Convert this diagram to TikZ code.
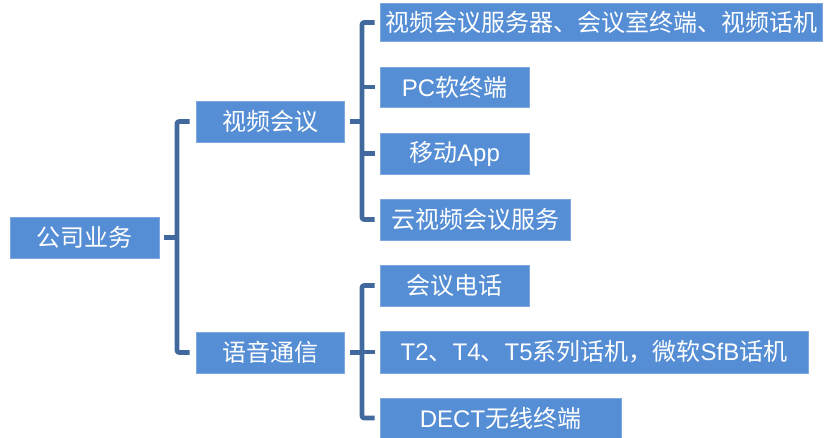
\documentclass[tikz,border=0pt]{standalone}
\usepackage{fontspec}
\setmainfont{Liberation Sans}
\newfontfamily\cjk{Noto Sans CJK SC}
\definecolor{boxblue}{HTML}{558ED5}
\definecolor{boxedge}{HTML}{7FA8DE}
\definecolor{linkblue}{HTML}{41699E}
\tikzset{
  box/.style={rectangle, fill=boxblue, draw=boxedge, line width=0.6pt, text=white,
    inner sep=0pt, font=\fontsize{18}{20}\selectfont},
  link/.style={draw=linkblue, line width=3.5pt, line join=round, rounded corners=1.5pt}
}
\begin{document}
\begin{tikzpicture}[x=0.75pt,y=-0.75pt]
\useasboundingbox[fill=white] (0,0) rectangle (828,437);
% level 0
\node[box, minimum width=149*0.75pt, minimum height=41*0.75pt] (root) at (84.5,237.5) {\cjk 公司业务};
% level 1
\node[box, minimum width=148*0.75pt, minimum height=41*0.75pt] (video) at (270,121.5) {\cjk 视频会议};
\node[box, minimum width=148*0.75pt, minimum height=41*0.75pt] (voice) at (270,352.5) {\cjk 语音通信};
% level 2 video
\node[box, minimum width=442*0.75pt, minimum height=38*0.75pt] (v1) at (601,22.5) {\cjk 视频会议服务器、会议室终端、视频话机};
\node[box, minimum width=149*0.75pt, minimum height=40*0.75pt] (v2) at (454.5,87) {PC{\cjk 软终端}};
\node[box, minimum width=149*0.75pt, minimum height=41*0.75pt] (v3) at (454.5,153.5) {{\cjk 移动}App};
\node[box, minimum width=190*0.75pt, minimum height=41*0.75pt] (v4) at (475,219.5) {\cjk 云视频会议服务};
% level 2 voice
\node[box, minimum width=149*0.75pt, minimum height=41*0.75pt] (a1) at (454.5,285.5) {\cjk 会议电话};
\node[box, minimum width=428*0.75pt, minimum height=42*0.75pt] (a2) at (594,352) {T2{\cjk 、}T4{\cjk 、}T5{\cjk 系列话机，微软}SfB{\cjk 话机}};
\node[box, minimum width=241*0.75pt, minimum height=40*0.75pt] (a3) at (500.5,418) {DECT{\cjk 无线终端}};
% bar coordinates
\coordinate (b0) at (177,0);
\coordinate (b1) at (362,0);
\coordinate (b2) at (362,0);
% root bracket
\draw[link] ([xshift=3.75pt]root.east) -- (b0 |- root.east);
\draw[link] ([xshift=-4.5pt]video.west) -- (b0 |- video.west) -- (b0 |- voice.west) -- ([xshift=-4.5pt]voice.west);
% video bracket
\draw[link] ([xshift=4.5pt]video.east) -- (b1 |- video.east);
\draw[link] ([xshift=-3.75pt]v1.west) -- (b1 |- v1.west) -- (b1 |- v4.west) -- ([xshift=-3.75pt]v4.west);
\draw[link] (b1 |- v2.west) -- ([xshift=-3.75pt]v2.west);
\draw[link] (b1 |- v3.west) -- ([xshift=-3.75pt]v3.west);
% voice bracket
\draw[link] ([xshift=4.5pt]voice.east) -- (b2 |- voice.east);
\draw[link] ([xshift=-3.75pt]a1.west) -- (b2 |- a1.west) -- (b2 |- a3.west) -- ([xshift=-3.75pt]a3.west);
\draw[link] (b2 |- a2.west) -- ([xshift=-3.75pt]a2.west);
\end{tikzpicture}
\end{document}
